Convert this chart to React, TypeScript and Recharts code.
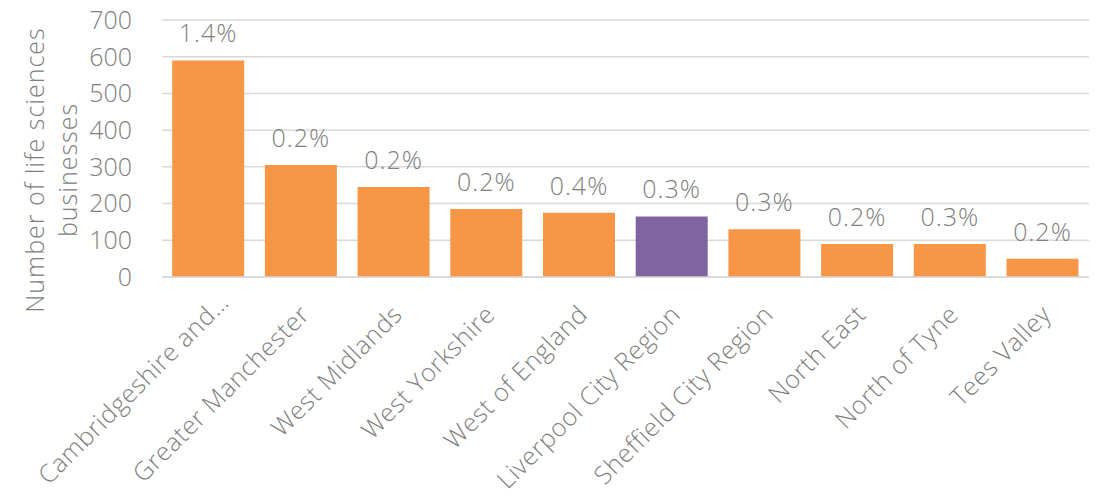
import { BarChart, Bar, XAxis, YAxis, CartesianGrid, LabelList, Cell } from 'recharts';

const regions = [
  'Cambridgeshire and…',
  'Greater Manchester',
  'West Midlands',
  'West Yorkshire',
  'West of England',
  'Liverpool City Region',
  'Sheffield City Region',
  'North East',
  'North of Tyne',
  'Tees Valley',
];
const businesses = [590, 305, 245, 185, 175, 165, 130, 90, 90, 50];
const shares = ['1.4%', '0.2%', '0.2%', '0.2%', '0.4%', '0.3%', '0.3%', '0.2%', '0.3%', '0.2%'];
const highlight = 'Liverpool City Region';
const yTicks = [0, 100, 200, 300, 400, 500, 600, 700];

const data = regions.map((name, i) => ({ name, value: businesses[i], share: shares[i] }));

const FONT = '"Open Sans", Lato, sans-serif';
const GREY = '#808080';
const ORANGE = '#f79646';
const PURPLE = '#8064a2';

const RotatedTick = (props: any) => {
  const { x, y, payload } = props;
  // the truncated label sits a little further along its own line
  const cut = String(payload.value).endsWith('…');
  const dx = cut ? 22 : 10;
  const dy = cut ? 19 : 31;
  return (
    <g transform={`translate(${x + dx},${y + dy})`}>
      <text
        transform="rotate(-45)"
        textAnchor="end"
        fill={GREY}
        fontSize={25}
        fontWeight={300}
        letterSpacing={0.6}
        fontFamily={FONT}
      >
        {payload.value}
      </text>
    </g>
  );
};

const YLabel = () => (
  <g transform="translate(35,170) rotate(-90)">
    <text textAnchor="middle" fill={GREY} fontSize={25} fontWeight={300} letterSpacing={1} fontFamily={FONT} y={9}>
      Number of life sciences
    </text>
    <text textAnchor="middle" fill={GREY} fontSize={25} fontWeight={300} letterSpacing={1} fontFamily={FONT} y={42}>
      businesses
    </text>
  </g>
);

export default function App() {
  return (
    <div style={{ position: 'absolute', left: 0, top: 0, background: '#fff' }}>
      <BarChart
        width={1099}
        height={502}
        data={data}
        margin={{ top: 20, right: 10, bottom: 0, left: 0 }}
        barCategoryGap="11%"
      >
        <CartesianGrid vertical={false} stroke="#d9d9d9" strokeWidth={1.5} />
        <XAxis
          dataKey="name"
          interval={0}
          tick={<RotatedTick />}
          tickLine={false}
          axisLine={{ stroke: '#d9d9d9', strokeWidth: 1.5 }}
          height={225}
        />
        <YAxis
          domain={[0, 700]}
          ticks={yTicks}
          width={162}
          axisLine={false}
          tickLine={false}
          tick={{ fill: GREY, fontSize: 25, fontWeight: 300, fontFamily: FONT }}
          tickMargin={24}
          label={<YLabel />}
        />
        <Bar dataKey="value" isAnimationActive={false} fill={ORANGE}>
          {data.map((d) => (
            <Cell key={d.name} fill={d.name === highlight ? PURPLE : ORANGE} />
          ))}
          <LabelList
            dataKey="share"
            position="top"
            offset={18}
            fill={GREY}
            fontSize={25}
            fontWeight={300}
            letterSpacing={1}
            fontFamily={FONT}
          />
        </Bar>
      </BarChart>
    </div>
  );
}
